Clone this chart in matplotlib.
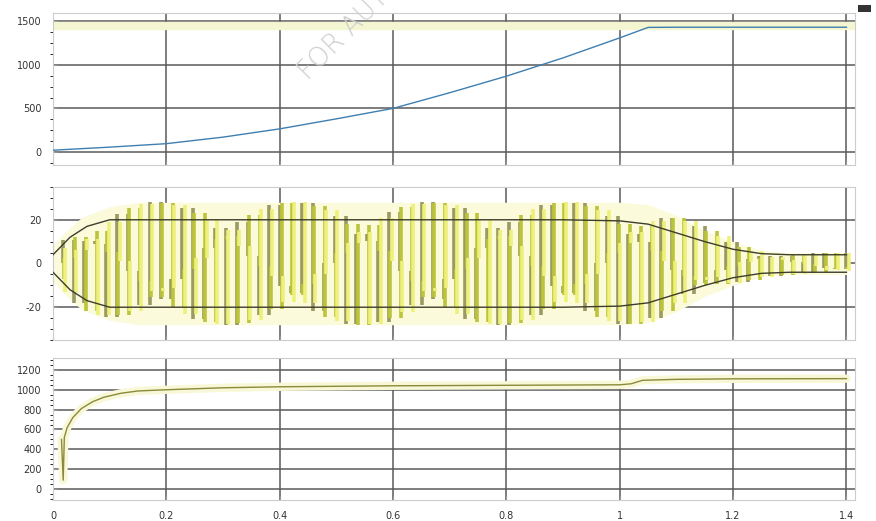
import numpy as np
import matplotlib.pyplot as plt
from matplotlib.patches import Rectangle
from matplotlib.ticker import MultipleLocator

# rotor speed (rpm) and its reference
speed_t = [0.0, 0.1, 0.2, 0.3, 0.4, 0.5, 0.6, 0.7, 0.8, 0.9, 1.0, 1.05, 1.1, 1.2, 1.3, 1.4]
speed = [20, 55, 95, 170, 265, 380, 500, 680, 870, 1080, 1310, 1430, 1432, 1432, 1432, 1432]
speed_ref = 1445

# stator current: peak envelope and rms line
amp_t = [0.0, 0.02, 0.05, 0.1, 0.15, 0.3, 0.6, 0.9, 1.0, 1.05, 1.1, 1.15, 1.2, 1.25, 1.3, 1.4]
amp_peak = [8, 14, 21, 26, 28, 28, 28, 28, 28, 27, 22, 15, 10, 6, 5, 5]
rms_t = [0.0, 0.03, 0.06, 0.1, 0.15, 0.9, 1.0, 1.05, 1.1, 1.15, 1.2, 1.25, 1.3, 1.4]
rms = [4, 12, 17, 20, 20, 20, 19.5, 18, 14, 10, 6.5, 4.5, 4, 4]
scope_step = 0.0192     # s between stored scope samples
phase_step = 0.36       # cycles advanced per stored sample

# dc link voltage (V)
vdc_t = [0.015, 0.018, 0.02, 0.025, 0.035, 0.05, 0.07, 0.09, 0.12, 0.15, 0.2, 0.3,
         0.4, 0.6, 0.8, 1.0, 1.02, 1.04, 1.1, 1.2, 1.4]
vdc = [500, 90, 520, 620, 720, 810, 880, 925, 965, 988, 1000, 1020,
       1030, 1040, 1045, 1050, 1060, 1095, 1105, 1110, 1112]

x_ticks = [0, 0.2, 0.4, 0.6, 0.8, 1, 1.2, 1.4]
x_labels = ['0', '0.2', '0.4', '0.6', '0.8', '1', '1.2', '1.4']

fig = plt.figure(figsize=(8.76, 5.21), dpi=100)
ax1 = fig.add_axes([0.0605, 0.6833, 0.9155, 0.2917])
ax2 = fig.add_axes([0.0605, 0.3474, 0.9155, 0.2937])
ax3 = fig.add_axes([0.0605, 0.0403, 0.9155, 0.2726])

grid_kw = dict(color='#5a5a5a', linewidth=1.1)
for ax in (ax1, ax2, ax3):
    ax.set_xlim(0, 1.415)
    ax.set_xticks(x_ticks)
    ax.grid(True, **grid_kw)
    ax.set_axisbelow(True)
    for s in ax.spines.values():
        s.set_color('#cccccc')
    ax.tick_params(direction='in', length=3, color='#999999', labelsize=7,
                   labelcolor='#333333', pad=8)

# speed
ax1.axhline(speed_ref, color='#f4f6d2', linewidth=6, zorder=1)
ax1.plot(speed_t, speed, color='#3f7fb0', linewidth=1.0, zorder=3)
ax1.set_ylim(-150, 1595)
ax1.set_yticks([0, 500, 1000, 1500])
ax1.set_yticklabels(['0', '500', '1000', '1500'])
ax1.yaxis.set_minor_locator(MultipleLocator(125))
ax1.set_xticklabels([])

# three-phase current, drawn as the strokes between stored samples
ts = np.arange(0, 1.4 + scope_step, scope_step)
env = np.interp(ts, amp_t, amp_peak)
t_fine = np.linspace(0, 1.4, 800)
env_fine = np.interp(t_fine, amp_t, amp_peak)
ax2.fill_between(t_fine, -env_fine, env_fine, color='#fbfbdc', linewidth=0, zorder=1)
phase_colors = ['#9a9a62', '#bcc53a', '#eef07c']
n = np.arange(len(ts))
for k, c in enumerate(phase_colors):
    i = env * np.sin(2 * np.pi * (phase_step * n - k / 3.0))
    ax2.vlines(ts[1:] + (k - 1) * 0.0022, i[:-1], i[1:], color=c,
               linewidth=2.6, zorder=3 + k)
ax2.plot(rms_t, rms, color='#3d3d2a', linewidth=1.0, zorder=7)
ax2.plot(rms_t, [-v for v in rms], color='#3d3d2a', linewidth=1.0, zorder=7)
ax2.set_ylim(-35, 35)
ax2.set_yticks([-20, 0, 20])
ax2.set_yticklabels(['-20', '0', '20'])
ax2.yaxis.set_minor_locator(MultipleLocator(5))
ax2.set_xticklabels([])

# dc link voltage
ax3.plot(vdc_t, vdc, color='#f8f8d8', linewidth=6, zorder=2, solid_capstyle='round')
ax3.plot(vdc_t, vdc, color='#8a8a3a', linewidth=1.0, zorder=3)
ax3.set_ylim(-110, 1320)
ax3.set_yticks([0, 200, 400, 600, 800, 1000, 1200])
ax3.set_yticklabels(['0', '200', '400', '600', '800', '1000', '1200'])
ax3.yaxis.set_minor_locator(MultipleLocator(50))
ax3.set_xticklabels(x_labels)

fig.text(0.352, 0.845, 'FOR AUTHOR USE ONLY', rotation=45, fontsize=19,
         color='#cfcfcf', fontweight='light', ha='left', va='baseline',
         rotation_mode='anchor')
fig.patches.append(Rectangle((0.979, 0.977), 0.015, 0.013, transform=fig.transFigure,
                             facecolor='#333333', edgecolor='none'))

fig.savefig('out.png', dpi=100)
